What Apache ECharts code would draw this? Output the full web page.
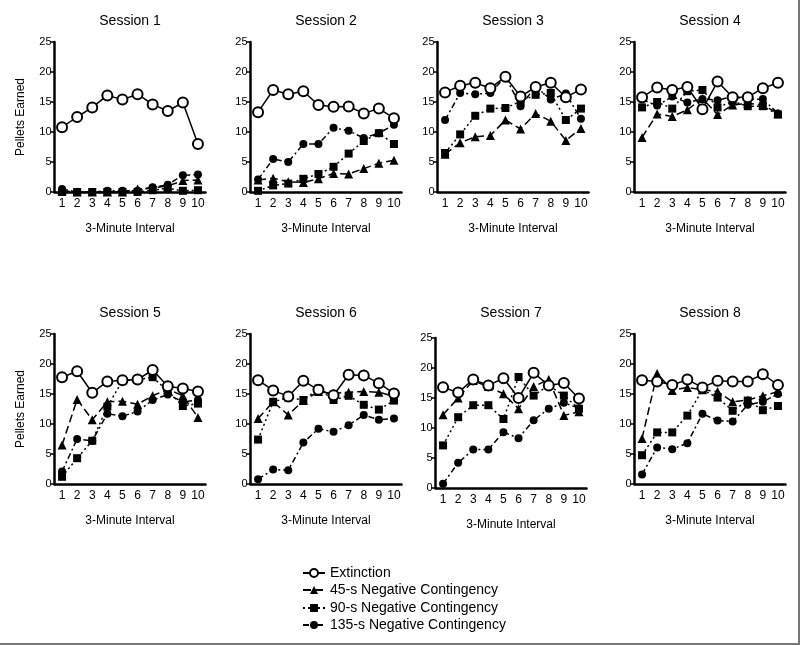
<!DOCTYPE html>
<html>
<head>
<meta charset="utf-8">
<script src="https://cdn.jsdelivr.net/npm/echarts@6/dist/echarts.min.js"></script>
<style>
  html, body { margin: 0; padding: 0; background: #fff; }
  #chart {
    width: 800px; height: 645px; box-sizing: border-box;
    border-right: 2px solid #777; border-bottom: 2px solid #777;
  }
</style>
</head>
<body>
<div id="chart"></div>
<script>
// 3-minute intervals
const intervals = ['1', '2', '3', '4', '5', '6', '7', '8', '9', '10'];
const sessions = ['Session 1', 'Session 2', 'Session 3', 'Session 4',
                  'Session 5', 'Session 6', 'Session 7', 'Session 8'];

// pellets earned, one row per session
const extinction = [
  [10.8, 12.5, 14.1, 16.1, 15.4, 16.3, 14.6, 13.5, 14.9, 8.0],
  [13.3, 17.0, 16.3, 16.8, 14.5, 14.2, 14.25, 13.1, 13.9, 12.3],
  [16.6, 17.7, 18.2, 17.3, 19.2, 15.9, 17.5, 18.2, 15.8, 17.1],
  [15.8, 17.4, 17.0, 17.5, 13.8, 18.4, 15.8, 15.8, 17.3, 18.2],
  [17.8, 18.8, 15.2, 17.1, 17.3, 17.4, 19.0, 16.3, 15.9, 15.4],
  [17.3, 15.6, 14.6, 17.2, 15.7, 14.8, 18.2, 18.1, 16.8, 15.1],
  [16.8, 15.9, 18.1, 17.1, 18.3, 15.0, 19.2, 17.1, 17.5, 14.9],
  [17.3, 17.1, 16.5, 17.4, 16.1, 17.2, 17.1, 17.1, 18.3, 16.5]
];
const neg45 = [
  [0.2, 0, 0, 0, 0, 0.5, 0.7, 1.0, 1.9, 2.0],
  [2.0, 2.3, 1.7, 1.6, 2.2, 3.1, 3.0, 3.9, 4.8, 5.3],
  [6.3, 8.2, 9.2, 9.4, 12.0, 10.5, 13.1, 11.8, 8.6, 10.6],
  [9.1, 13.0, 12.6, 13.7, 15.6, 12.9, 14.5, 14.8, 14.5, 13.1],
  [6.5, 14.1, 10.7, 13.7, 13.8, 13.3, 14.7, 15.8, 14.7, 11.1],
  [10.9, 13.7, 11.5, 13.9, 15.4, 15.1, 15.3, 15.4, 15.3, 14.6],
  [12.2, 15.0, 17.9, 16.9, 15.7, 13.2, 16.9, 18.1, 12.1, 12.7],
  [7.6, 18.4, 15.6, 16.1, 15.7, 15.4, 13.7, 14.0, 14.7, 15.4]
];
const neg90 = [
  [0, 0, 0, 0, 0, 0, 0.3, 0.6, 0.2, 0.3],
  [0.2, 1.1, 1.4, 2.2, 3.0, 4.2, 6.4, 8.5, 9.8, 8.0],
  [6.5, 9.6, 12.7, 13.9, 14.0, 15.1, 16.2, 16.5, 12.0, 13.9],
  [14.1, 15.0, 13.9, 16.8, 17.0, 14.1, 15.1, 14.3, 14.3, 12.9],
  [1.2, 4.3, 7.2, 12.9, 17.2, 17.4, 17.8, 15.5, 13.0, 13.4],
  [7.4, 13.7, 14.4, 14.0, 15.9, 14.0, 14.7, 13.2, 12.4, 13.9],
  [7.1, 11.8, 13.8, 13.8, 11.5, 18.5, 15.4, 17.1, 15.4, 13.2],
  [4.8, 8.6, 8.6, 11.4, 15.7, 14.4, 12.2, 13.9, 12.3, 13.0]
];
const neg135 = [
  [0.5, 0, 0, 0.2, 0.2, 0.2, 0.8, 1.2, 2.8, 2.9],
  [2.1, 5.5, 5.0, 8.0, 8.0, 10.7, 10.2, 9.0, 9.8, 11.2],
  [12.0, 16.5, 16.3, 16.5, 19.2, 14.3, 17.6, 15.4, 16.4, 12.2],
  [15.4, 14.4, 15.9, 14.9, 15.5, 15.3, 15.9, 15.4, 15.5, 13.1],
  [2.1, 7.5, 7.2, 11.7, 11.3, 12.1, 14.0, 14.9, 13.7, 14.0],
  [0.8, 2.4, 2.3, 6.9, 9.2, 8.7, 9.8, 11.5, 10.7, 10.9],
  [0.7, 4.2, 6.4, 6.4, 9.3, 8.3, 11.3, 13.2, 14.2, 13.3],
  [1.6, 6.1, 5.8, 6.8, 11.7, 10.6, 10.4, 13.2, 13.7, 15.0]
];

const font = 'Liberation Sans, Arial, sans-serif';
const panels = [
  { left: 54.5, top: 42, titleTop: 14 }, { left: 250.5, top: 42, titleTop: 14 },
  { left: 437.5, top: 42, titleTop: 14 }, { left: 634.5, top: 42, titleTop: 14 },
  { left: 54.5, top: 334, titleTop: 306 }, { left: 250.5, top: 334, titleTop: 306 },
  { left: 435.5, top: 338, titleTop: 306 }, { left: 634.5, top: 334, titleTop: 306 }
];
const gw = 151, gh = 150;

const groups = [
  { name: 'Extinction', data: extinction, symbol: 'emptyCircle', size: 10, dash: 'solid' },
  { name: '45-s Negative Contingency', data: neg45, symbol: 'triangle', size: 9, dash: [8, 4] },
  { name: '90-s Negative Contingency', data: neg90, symbol: 'rect', size: 8, dash: [2, 3] },
  { name: '135-s Negative Contingency', data: neg135, symbol: 'circle', size: 8, dash: [6, 3, 2, 3] }
];

let grid = [], xAxis = [], yAxis = [], title = [], series = [];
panels.forEach((p, i) => {
  grid.push({ left: p.left, top: p.top, width: gw, height: gh });
  title.push({
    text: sessions[i], left: p.left + gw / 2, top: p.titleTop, textAlign: 'center',
    padding: 0,
    textStyle: { fontFamily: font, fontSize: 14, fontWeight: 'normal', color: '#000' }
  });
  xAxis.push({
    gridIndex: i, type: 'category', data: intervals, boundaryGap: true,
    name: '3-Minute Interval', nameLocation: 'middle', nameGap: 31,
    nameTextStyle: { fontFamily: font, fontSize: 12, color: '#000' },
    axisLine: { lineStyle: { color: '#000', width: 2.5 } },
    axisTick: { alignWithLabel: true, length: 4, lineStyle: { width: 1.5, color: '#000' } },
    axisLabel: { interval: 0, fontFamily: font, fontSize: 12, color: '#000', margin: 6 },
    splitLine: { show: false }
  });
  yAxis.push({
    gridIndex: i, type: 'value', min: 0, max: 25, interval: 5,
    name: (i === 0 || i === 4) ? 'Pellets Earned' : '',
    nameLocation: 'middle', nameGap: 28, nameRotate: 90,
    nameTextStyle: { fontFamily: font, fontSize: 12, color: '#000' },
    axisLine: { show: true, lineStyle: { color: '#000', width: 2.5 } },
    axisTick: { show: true, length: 4, lineStyle: { width: 1.5, color: '#000' } },
    axisLabel: { fontFamily: font, fontSize: 11, color: '#000', margin: 3 },
    splitLine: { show: false }
  });
  groups.slice().reverse().forEach(g => {
    series.push({
      name: g.name, type: 'line', xAxisIndex: i, yAxisIndex: i,
      data: g.data[i], symbol: g.symbol, symbolSize: g.size,
      showAllSymbol: true, animation: false,
      z: g.symbol === 'emptyCircle' ? 5 : 3,
      itemStyle: { color: '#000', borderColor: '#000', borderWidth: g.symbol === 'emptyCircle' ? 1.5 : 0 },
      lineStyle: { color: '#000', width: 1.5, type: g.dash }
    });
  });
});

// one legend per row so the items stack like the original
const legendTops = [566, 583, 601, 618];
const legend = groups.map((g, k) => ({
  data: [g.name], orient: 'vertical', left: 302, top: legendTops[k], padding: 0,
  itemWidth: 22, itemHeight: 10,
  textStyle: { fontFamily: font, fontSize: 14, color: '#000' }
}));

const chart = echarts.init(document.getElementById('chart'));
chart.setOption({
  animation: false,
  title: title,
  grid: grid,
  xAxis: xAxis,
  yAxis: yAxis,
  legend: legend,
  series: series
});
</script>
</body>
</html>
